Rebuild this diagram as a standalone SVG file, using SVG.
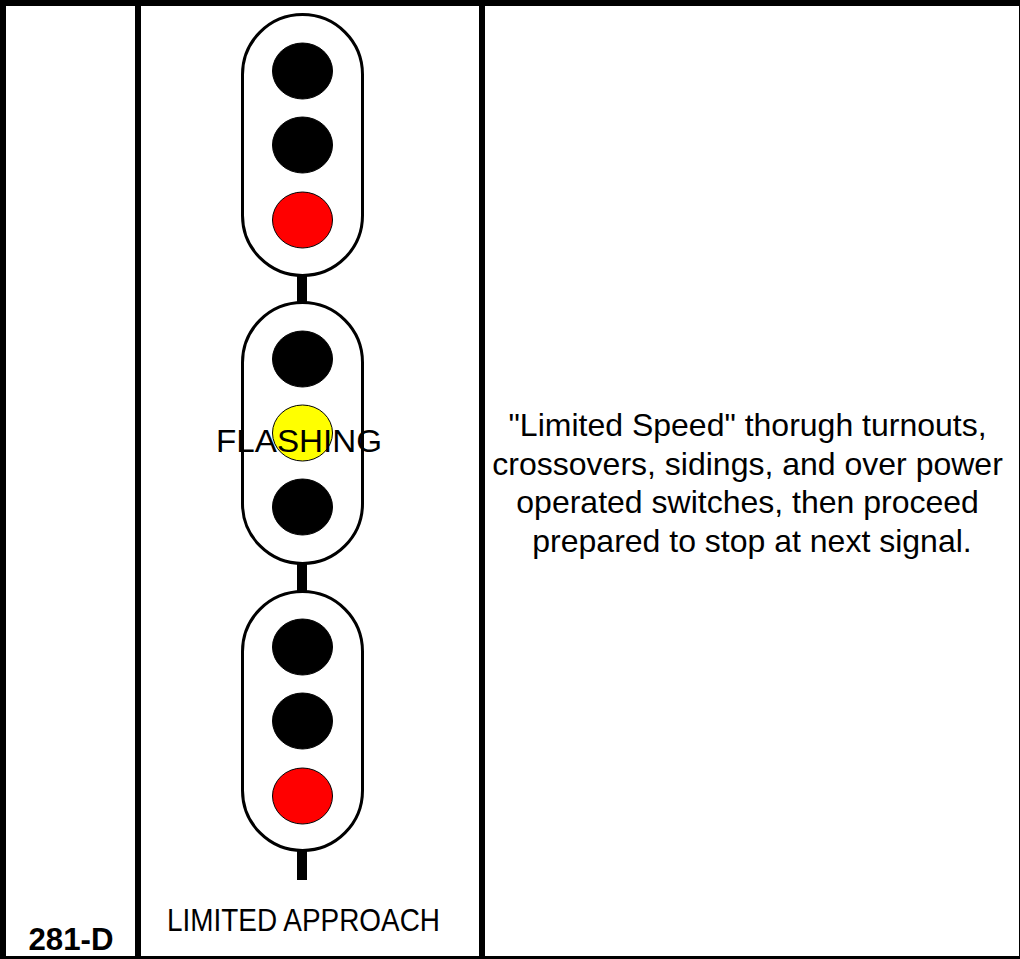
<svg xmlns="http://www.w3.org/2000/svg" width="1020" height="959" viewBox="0 0 1020 959">
<style>
.grid{fill:none;stroke:#000;stroke-width:6}
.head{fill:#fff;stroke:#000;stroke-width:3}
.lamp{stroke:#000;stroke-width:1}
.off{fill:#000}
.red{fill:#f00}
.yel{fill:#ff0}
.t{font-family:"Liberation Sans",Arial,sans-serif;fill:#000}
</style>
<rect x="0" y="0" width="1020" height="959" fill="#fff"/>
<g id="table">
<rect class="grid" x="3" y="3" width="1019" height="956"/>
<line class="grid" x1="138" y1="0" x2="138" y2="959"/>
<line class="grid" x1="482" y1="0" x2="482" y2="959"/>
</g>
<g id="connectors">
<rect x="297" y="270" width="10" height="610" fill="#000"/>
</g>
<g id="head1">
<rect class="head" x="242.5" y="14.5" width="120" height="261" rx="60" ry="60"/>
<ellipse class="lamp off" cx="302.5" cy="71" rx="30" ry="28"/>
<ellipse class="lamp off" cx="302.5" cy="145" rx="30" ry="28"/>
<ellipse class="lamp red" cx="302.5" cy="220" rx="30" ry="28"/>
</g>
<g id="head2">
<rect class="head" x="242.5" y="302.5" width="120" height="261" rx="60" ry="60"/>
<ellipse class="lamp off" cx="302.5" cy="359" rx="30" ry="28"/>
<ellipse class="lamp yel" cx="302.5" cy="433" rx="30" ry="28"/>
<ellipse class="lamp off" cx="302.5" cy="507" rx="30" ry="28"/>
<text class="t" x="299" y="452" font-size="32" text-anchor="middle" textLength="166" lengthAdjust="spacingAndGlyphs">FLASHING</text>
</g>
<g id="head3">
<rect class="head" x="242.5" y="591.5" width="120" height="259" rx="60" ry="60"/>
<ellipse class="lamp off" cx="302.5" cy="647" rx="30" ry="28"/>
<ellipse class="lamp off" cx="302.5" cy="721" rx="30" ry="28"/>
<ellipse class="lamp red" cx="302.5" cy="796" rx="30" ry="28"/>
</g>
<g id="labels">
<text class="t" x="71" y="950" font-size="32" font-weight="bold" text-anchor="middle" textLength="85" lengthAdjust="spacingAndGlyphs">281-D</text>
<text class="t" x="303.5" y="931" font-size="31" text-anchor="middle" textLength="273" lengthAdjust="spacingAndGlyphs">LIMITED APPROACH</text>
</g>
<g id="description">
<text class="t" font-size="32" text-anchor="middle">
<tspan x="752" y="436">"Limited Speed" thorugh turnouts,</tspan>
<tspan x="752" y="474.5">crossovers, sidings, and over power</tspan>
<tspan x="752" y="513">operated switches, then proceed</tspan>
<tspan x="752" y="551.5">prepared to stop at next signal.</tspan>
</text>
</g>
</svg>
